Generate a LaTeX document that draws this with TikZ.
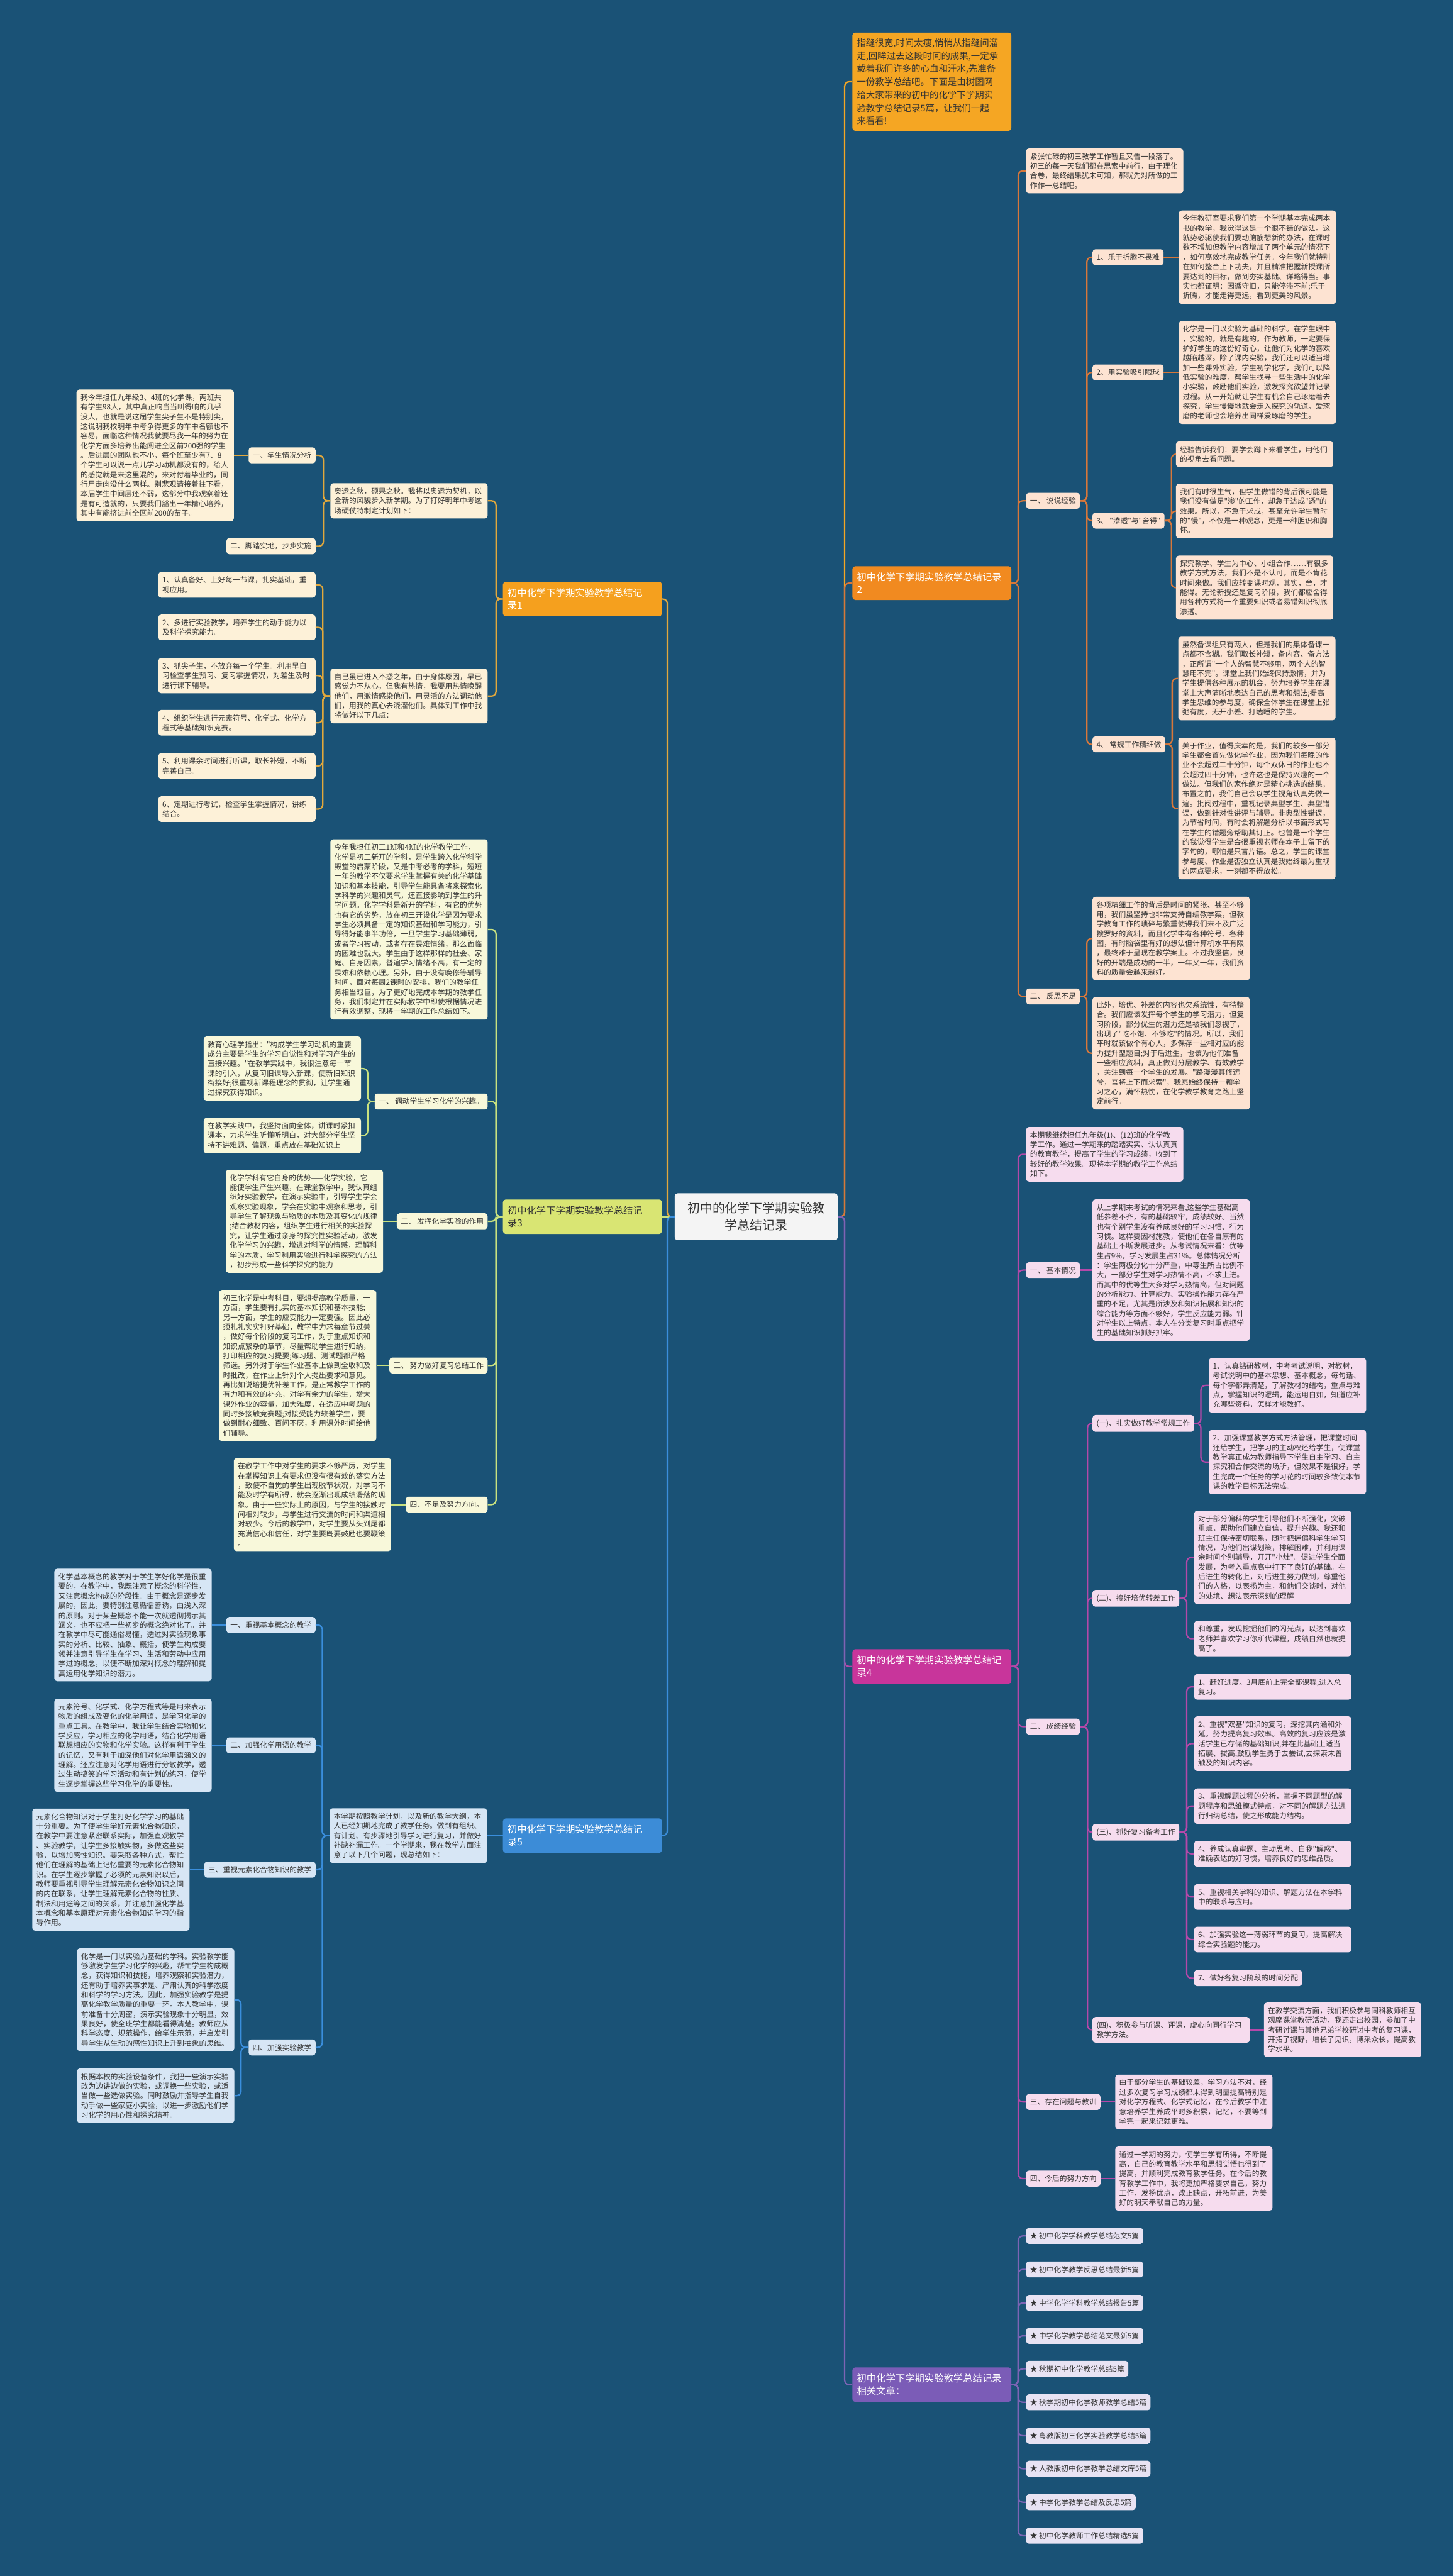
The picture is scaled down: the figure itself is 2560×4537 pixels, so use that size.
\documentclass[tikz,border=0pt]{standalone}
\usepackage{fontspec}
\newfontfamily\zh{Noto Sans CJK SC}[Ligatures=TeXOff]
\usetikzlibrary{positioning}
\definecolor{bgblue}{HTML}{1A5276}
\definecolor{ink}{HTML}{333333}
\definecolor{rootfill}{HTML}{F4F4F4}
\definecolor{introfill}{HTML}{F5A623}
\definecolor{oneMain}{HTML}{F5A01E}
\definecolor{oneLeaf}{HTML}{FDF1D8}
\definecolor{oneLine}{HTML}{E2A83C}
\definecolor{twoMain}{HTML}{F18A20}
\definecolor{twoLeaf}{HTML}{FDE3D2}
\definecolor{twoLine}{HTML}{D8773A}
\definecolor{threeMain}{HTML}{D9E573}
\definecolor{threeLeaf}{HTML}{F8F8DA}
\definecolor{threeLine}{HTML}{C9E27F}
\definecolor{fourMain}{HTML}{C8359B}
\definecolor{fourLeaf}{HTML}{F6DCEE}
\definecolor{fourLine}{HTML}{B548A9}
\definecolor{fiveMain}{HTML}{3C8CD7}
\definecolor{fiveLeaf}{HTML}{D7E6F5}
\definecolor{fiveLine}{HTML}{3A8EDC}
\definecolor{sixMain}{HTML}{7B5CB7}
\definecolor{sixLeaf}{HTML}{E8E3F3}
\definecolor{sixLine}{HTML}{7D64B5}

\begin{document}
\begin{tikzpicture}[x=1pt,y=-1pt,
  base/.style={rounded corners=5pt,inner xsep=7pt,inner ysep=8pt,align=left,text=ink,
    font=\zh\fontsize{13}{17}\selectfont},
  leaf/.style={base,text width=263pt},
  main/.style={rounded corners=5pt,inner xsep=8pt,inner ysep=11.5pt,text width=264pt,align=left,
    text=white,font=\zh\fontsize{17}{22}\selectfont},
  f1/.style={fill=oneLeaf},f2/.style={fill=twoLeaf},f3/.style={fill=threeLeaf},
  f4/.style={fill=fourLeaf},f5/.style={fill=fiveLeaf},f6/.style={fill=sixLeaf},
  wire/.style={line width=2.5pt,rounded corners=8pt},
  ln1/.style={wire,draw=oneLine},ln2/.style={wire,draw=twoLine},ln3/.style={wire,draw=threeLine},
  ln4/.style={wire,draw=fourLine},ln5/.style={wire,draw=fiveLine},ln6/.style={wire,draw=sixLine},
  lnI/.style={wire,draw=introfill}]
\fill[bgblue] (0,0) rectangle (2560,4537);
\useasboundingbox (0,0) rectangle (2560,4537);

% centre
\node[rounded corners=5pt,fill=rootfill,text=ink,text width=263pt,align=center,inner xsep=12pt,inner ysep=16pt,
  font=\zh\fontsize{22}{30}\selectfont] (root) at (1332,2143) {初中的化学下学期实验教\\学总结记录};

% ---------- left: 记录1 ----------
\node[main,fill=oneMain,anchor=east] (rec1) at (1166,1055) {初中化学下学期实验教学总结记\\录1};
\node[leaf,f1,anchor=east] (aoyun) at (859,882) {奥运之秋，硕果之秋。我将以奥运为契机，以\\全新的风貌步入新学期。为了打好明年中考这\\场硬仗特制定计划如下：};
\node[base,f1,anchor=east] (xsfx) at (556,802) {一、学生情况分析};
\node[base,f1,anchor=east] (jtsd) at (556,962) {二、脚踏实地，步步实施};
\node[leaf,f1,anchor=east] (xsqk) at (412,802) {我今年担任九年级3、4班的化学课，两班共\\有学生98人，其中真正响当当叫得响的几乎\\没人，也就是说这届学生尖子生不是特别尖，\\这说明我校明年中考争得更多的车中名额也不\\容易，面临这种情况我就要尽我一年的努力在\\化学方面多培养出能闯进全区前200强的学生\\。后进层的团队也不小，每个班至少有7、8\\个学生可以说一点儿学习动机都没有的，给人\\的感觉就是来这里混的，来对付着毕业的，同\\行尸走肉没什么两样。别悲观请接着往下看，\\本届学生中间层还不弱，这部分中我观察着还\\是有可造就的，只要我们豁出一年精心培养，\\其中有能挤进前全区前200的苗子。};
\node[leaf,f1,anchor=east] (buhuo) at (859,1226) {自己虽已进入不惑之年，由于身体原因，早已\\感觉力不从心，但我有热情，我要用热情唤醒\\他们，用激情感染他们，用灵活的方法调动他\\们，用我的真心去浇灌他们。具体到工作中我\\将做好以下几点：};
\node[leaf,f1,anchor=east] (p1) at (556,1030) {1、认真备好、上好每一节课，扎实基础，重\\视应用。};
\node[leaf,f1,anchor=east] (p2) at (556,1105) {2、多进行实验教学，培养学生的动手能力以\\及科学探究能力。};
\node[leaf,f1,anchor=east] (p3) at (556,1190) {3、抓尖子生，不放弃每一个学生。利用早自\\习检查学生预习、复习掌握情况，对差生及时\\进行课下辅导。};
\node[leaf,f1,anchor=east] (p4) at (556,1273) {4、组织学生进行元素符号、化学式、化学方\\程式等基础知识竞赛。};
\node[leaf,f1,anchor=east] (p5) at (556,1349) {5、利用课余时间进行听课，取长补短，不断\\完善自己。};
\node[leaf,f1,anchor=east] (p6) at (556,1425) {6、定期进行考试，检查学生掌握情况，讲练\\结合。};

% ---------- left: 记录3 ----------
\node[main,fill=threeMain,text=ink,anchor=east] (rec3) at (1166,2143) {初中化学下学期实验教学总结记\\录3};
\node[leaf,f3,anchor=east] (jinnian) at (859,1637) {今年我担任初三1班和4班的化学教学工作，\\化学是初三新开的学科，是学生跨入化学科学\\殿堂的启蒙阶段，又是中考必考的学科，短短\\一年的教学不仅要求学生掌握有关的化学基础\\知识和基本技能，引导学生能具备将来探索化\\学科学的兴趣和灵气，还直接影响到学生的升\\学问题。化学学科是新开的学科，有它的优势\\也有它的劣势，放在初三开设化学是因为要求\\学生必须具备一定的知识基础和学习能力，引\\导得好能事半功倍，一旦学生学习基础薄弱，\\或者学习被动，或者存在畏难情绪，那么面临\\的困难也就大。学生由于这样那样的社会、家\\庭、自身因素，普遍学习情绪不高，有一定的\\畏难和依赖心理。另外，由于没有晚修等辅导\\时间，面对每周2课时的安排，我们的教学任\\务相当艰巨，为了更好地完成本学期的教学任\\务，我们制定并在实际教学中即使根据情况进\\行有效调整，现将一学期的工作总结如下。};
\node[base,f3,anchor=east] (xingqu) at (859,1940) {一、 调动学生学习化学的兴趣。};
\node[leaf,f3,anchor=east] (xlx) at (636,1882) {教育心理学指出："构成学生学习动机的重要\\成分主要是学生的学习自觉性和对学习产生的\\直接兴趣。"在教学实践中，我很注意每一节\\课的引入，从复习旧课导入新课，使新旧知识\\衔接好;很重视新课程理念的贯彻，让学生通\\过探究获得知识。};
\node[leaf,f3,anchor=east] (quanti) at (636,2000) {在教学实践中，我坚持面向全体，讲课时紧扣\\课本，力求学生听懂听明白，对大部分学生坚\\持不讲难题、偏题，重点放在基础知识上};
\node[base,f3,anchor=east] (shiyan) at (859,2151) {二、 发挥化学实验的作用};
\node[leaf,f3,anchor=east] (youshi) at (675,2151) {化学学科有它自身的优势——化学实验，它\\能使学生产生兴趣，在课堂教学中，我认真组\\织好实验教学，在演示实验中，引导学生学会\\观察实验现象，学会在实验中观察和思考，引\\导学生了解现象与物质的本质及其变化的规律\\;结合教材内容，组织学生进行相关的实验探\\究，让学生通过亲身的探究性实验活动，激发\\化学学习的兴趣，增进对科学的情感，理解科\\学的本质，学习利用实验进行科学探究的方法\\，初步形成一些科学探究的能力};
\node[base,f3,anchor=east] (fuxi) at (859,2405) {三、 努力做好复习总结工作};
\node[leaf,f3,anchor=east] (zhongkao) at (663,2405) {初三化学是中考科目，要想提高教学质量，一\\方面，学生要有扎实的基本知识和基本技能;\\另一方面，学生的应变能力一定要强。因此必\\须扎扎实实打好基础，教学中力求每章节过关\\，做好每个阶段的复习工作，对于重点知识和\\知识点繁杂的章节，尽量帮助学生进行归纳，\\打印相应的复习提要;练习题、测试题都严格\\筛选。另外对于学生作业基本上做到全收和及\\时批改，在作业上针对个人提出要求和意见。\\再比如说培提优补差工作，是正常教学工作的\\有力和有效的补充，对学有余力的学生，增大\\课外作业的容量，加大难度，在适应中考题的\\同时多接触竞赛题;对接受能力较差学生，要\\做到耐心细致、百问不厌，利用课外时间给他\\们辅导。};
\node[base,f3,anchor=east] (buzu) at (859,2650) {四、不足及努力方向。};
\node[leaf,f3,anchor=east] (yanli) at (689,2650) {在教学工作中对学生的要求不够严厉，对学生\\在掌握知识上有要求但没有很有效的落实方法\\，致使不自觉的学生出现脱节状况，对学习不\\能及时学有所得，就会逐渐出现成绩滑落的现\\象。由于一些实际上的原因，与学生的接触时\\间相对较少，与学生进行交流的时间和渠道相\\对较少。今后的教学中，对学生要从头到尾都\\充满信心和信任，对学生要既要鼓励也要鞭策\\。};

% ---------- left: 记录5 ----------
\node[main,fill=fiveMain,anchor=east] (rec5) at (1166,3233) {初中化学下学期实验教学总结记\\录5};
\node[leaf,f5,anchor=east] (jihua) at (858,3233) {本学期按照教学计划，以及新的教学大纲，本\\人已经如期地完成了教学任务。做到有组织、\\有计划、有步骤地引导学习进行复习，并做好\\补缺补漏工作。一个学期来，我在教学方面注\\意了以下几个问题，现总结如下：};
\node[base,f5,anchor=east] (gainian) at (556,2862) {一、重视基本概念的教学};
\node[leaf,f5,anchor=east] (gnt) at (373,2862) {化学基本概念的教学对于学生学好化学是很重\\要的，在教学中，我既注意了概念的科学性，\\又注意概念构成的阶段性。由于概念是逐步发\\展的，因此，要特别注意循循善诱，由浅入深\\的原则。对于某些概念不能一次就透彻揭示其\\涵义，也不应把一些初步的概念绝对化了。并\\在教学中尽可能通俗易懂，透过对实验现象事\\实的分析、比较、抽象、概括，使学生构成要\\领并注意引导学生在学习、生活和劳动中应用\\学过的概念，以便不断加深对概念的理解和提\\高运用化学知识的潜力。};
\node[base,f5,anchor=east] (yongyu) at (556,3074) {二、加强化学用语的教学};
\node[leaf,f5,anchor=east] (yyt) at (373,3074) {元素符号、化学式、化学方程式等是用来表示\\物质的组成及变化的化学用语，是学习化学的\\重点工具。在教学中，我让学生结合实物和化\\学反应，学习相应的化学用语，结合化学用语\\联想相应的实物和化学实验。这样有利于学生\\的记忆，又有利于加深他们对化学用语涵义的\\理解。还应注意对化学用语进行分散教学，透\\过生动搞笑的学习活动和有计划的练习，使学\\生逐步掌握这些学习化学的重要性。};
\node[base,f5,anchor=east] (yuansu) at (556,3293) {三、重视元素化合物知识的教学};
\node[leaf,f5,anchor=east] (yst) at (334,3293) {元素化合物知识对于学生打好化学学习的基础\\十分重要。为了使学生学好元素化合物知识，\\在教学中要注意紧密联系实际，加强直观教学\\、实验教学，让学生多接触实物，多做这些实\\验，以增加感性知识。要采取各种方式，帮忙\\他们在理解的基础上记忆重要的元素化合物知\\识。在学生逐步掌握了必须的元素知识以后，\\教师要重视引导学生理解元素化合物知识之间\\的内在联系，让学生理解元素化合物的性质、\\制法和用途等之间的关系，并注意加强化学基\\本概念和基本原理对元素化合物知识学习的指\\导作用。};
\node[base,f5,anchor=east] (syjx) at (556,3606) {四、加强实验教学};
\node[leaf,f5,anchor=east] (syt1) at (413,3522) {化学是一门以实验为基础的学科。实验教学能\\够激发学生学习化学的兴趣，帮忙学生构成概\\念，获得知识和技能，培养观察和实验潜力，\\还有助于培养实事求是、严肃认真的科学态度\\和科学的学习方法。因此，加强实验教学是提\\高化学教学质量的重要一环。本人教学中，课\\前准备十分周密，演示实验现象十分明显，效\\果良好，使全班学生都能看得清楚。教师应从\\科学态度、规范操作，给学生示范，并启发引\\导学生从生动的感性知识上升到抽象的思维。};
\node[leaf,f5,anchor=east] (syt2) at (413,3691) {根据本校的实验设备条件，我把一些演示实验\\改为边讲边做的实验，或调换一些实验，或适\\当做一些选做实验。同时鼓励并指导学生自我\\动手做一些家庭小实验，以进一步激励他们学\\习化学的用心性和探究精神。};

% ---------- right: intro ----------
\node[rounded corners=5pt,fill=introfill,text=ink,text width=264pt,align=left,inner xsep=8pt,inner ysep=10pt,
  font=\zh\fontsize{16}{23}\selectfont,anchor=west] (intro) at (1501,144) {指缝很宽,时间太瘦,悄悄从指缝间溜\\走,回眸过去这段时间的成果,一定承\\载着我们许多的心血和汗水,先准备\\一份教学总结吧。下面是由树图网\\给大家带来的初中的化学下学期实\\验教学总结记录5篇，让我们一起\\来看看!};

% ---------- right: 记录2 ----------
\node[main,fill=twoMain,anchor=west] (rec2) at (1501,1027) {初中化学下学期实验教学总结记录\\2};
\node[leaf,f2,anchor=west] (jinzhang) at (1807,301) {紧张忙碌的初三教学工作暂且又告一段落了。\\初三的每一天我们都在思索中前行，由于理化\\合卷，最终结果犹未可知，那就先对所做的工\\作作一总结吧。};
\node[base,f2,anchor=west] (jingyan) at (1807,882) {一、 说说经验};
\node[base,f2,anchor=west] (zheteng) at (1924,453) {1、乐于折腾不畏难};
\node[leaf,f2,anchor=west] (ztt) at (2076,453) {今年教研室要求我们第一个学期基本完成两本\\书的教学，我觉得这是一个很不错的做法。这\\就势必驱使我们要动脑筋想新的办法，在课时\\数不增加但教学内容增加了两个单元的情况下\\，如何高效地完成教学任务。今年我们就特别\\在如何整合上下功夫，并且精准把握新授课所\\要达到的目标，做到夯实基础、详略得当。事\\实也都证明：因循守旧，只能停滞不前;乐于\\折腾，才能走得更远，看到更美的风景。};
\node[base,f2,anchor=west] (yanqiu) at (1924,656) {2、用实验吸引眼球};
\node[leaf,f2,anchor=west] (yqt) at (2076,656) {化学是一门以实验为基础的科学。在学生眼中\\，实验的，就是有趣的。作为教师，一定要保\\护好学生的这份好奇心，让他们对化学的喜欢\\越陷越深。除了课内实验，我们还可以适当增\\加一些课外实验，学生初学化学，我们可以降\\低实验的难度，帮学生找寻一些生活中的化学\\小实验，鼓励他们实验，激发探究欲望并记录\\过程。从一开始就让学生有机会自己琢磨着去\\探究，学生慢慢地就会走入探究的轨道。爱琢\\磨的老师也会培养出同样爱琢磨的学生。};
\node[base,f2,anchor=west] (shentou) at (1924,917) {3、 "渗透"与"舍得"};
\node[leaf,f2,anchor=west] (st1) at (2071,800) {经验告诉我们：要学会蹲下来看学生，用他们\\的视角去看问题。};
\node[leaf,f2,anchor=west] (st2) at (2071,900) {我们有时很生气，但学生做错的背后很可能是\\我们没有做足"渗"的工作，却急于达成"透"的\\效果。所以，不急于求成，甚至允许学生暂时\\的"慢"，不仅是一种观念，更是一种胆识和胸\\怀。};
\node[leaf,f2,anchor=west] (st3) at (2071,1035) {探究教学、学生为中心、小组合作……有很多\\教学方式方法，我们不是不认可，而是不肯花\\时间来做。我们应转变课时观，其实，舍，才\\能得。无论新授还是复习阶段，我们都应舍得\\用各种方式将一个重要知识或者易错知识彻底\\渗透。};
\node[base,f2,anchor=west] (changgui) at (1924,1311) {4、 常规工作精细做};
\node[leaf,f2,anchor=west] (cg1) at (2075,1195) {虽然备课组只有两人，但是我们的集体备课一\\点都不含糊。我们取长补短，备内容、备方法\\，正所谓"一个人的智慧不够用，两个人的智\\慧用不完"。课堂上我们始终保持激情，并为\\学生提供各种展示的机会，努力培养学生在课\\堂上大声清晰地表达自己的思考和想法;提高\\学生思维的参与度，确保全体学生在课堂上张\\弛有度，无开小差、打瞌睡的学生。};
\node[leaf,f2,anchor=west] (cg2) at (2075,1424) {关于作业，值得庆幸的是，我们的较多一部分\\学生都会首先做化学作业，因为我们每晚的作\\业不会超过二十分钟，每个双休日的作业也不\\会超过四十分钟，也许这也是保持兴趣的一个\\做法。但我们的家作绝对是精心挑选的结果，\\布置之前，我们自己会以学生视角认真先做一\\遍。批阅过程中，重视记录典型学生、典型错\\误，做到针对性讲评与辅导。非典型性错误，\\为节省时间，有时会将解题分析以书面形式写\\在学生的错题旁帮助其订正。也曾是一个学生\\的我觉得学生是会很重视老师在本子上留下的\\字句的，哪怕是只言片语。总之，学生的课堂\\参与度、作业是否独立认真是我始终最为重视\\的两点要求，一刻都不得放松。};
\node[base,f2,anchor=west] (fansi) at (1807,1755) {二、 反思不足};
\node[leaf,f2,anchor=west] (fs1) at (1924,1653) {各项精细工作的背后是时间的紧张、甚至不够\\用，我们虽坚持也非常支持自编教学案，但教\\学教育工作的琐碎与繁重使得我们来不及广泛\\搜罗好的资料，而且化学中有各种符号、各种\\图，有时脑袋里有好的想法但计算机水平有限\\，最终难于呈现在教学案上。不过我坚信，良\\好的开端是成功的一半，一年又一年，我们资\\料的质量会越来越好。};
\node[leaf,f2,anchor=west] (fs2) at (1924,1855) {此外，培优、补差的内容也欠系统性，有待整\\合。我们应该发挥每个学生的学习潜力，但复\\习阶段，部分优生的潜力还是被我们忽视了，\\出现了"吃不饱、不够吃"的情况。所以，我们\\平时就该做个有心人，多保存一些相对应的能\\力提升型题目;对于后进生，也该为他们准备\\一些相应资料，真正做到分层教学、有效教学\\，关注到每一个学生的发展。"路漫漫其修远\\兮，吾将上下而求索"，我愿始终保持一颗学\\习之心，满怀热忱，在化学教学教育之路上坚\\定前行。};

% ---------- right: 记录4 ----------
\node[main,fill=fourMain,anchor=west] (rec4) at (1501,2935) {初中的化学下学期实验教学总结记\\录4};
\node[leaf,f4,anchor=west] (benqi) at (1807,2033) {本期我继续担任九年级(1)、(12)班的化学教\\学工作。通过一学期来的踏踏实实、认认真真\\的教育教学，提高了学生的学习成绩，收到了\\较好的教学效果。现将本学期的教学工作总结\\如下。};
\node[base,f4,anchor=west] (jiben) at (1807,2237) {一、 基本情况};
\node[leaf,f4,anchor=west] (jbt) at (1924,2237) {从上学期末考试的情况来看,这些学生基础高\\低参差不齐，有的基础较牢，成绩较好。当然\\也有个别学生没有养成良好的学习习惯、行为\\习惯。这样要因材施教，使他们在各自原有的\\基础上不断发展进步。从考试情况来看：优等\\生占9\%，学习发展生占31\%。总体情况分析\\：学生两极分化十分严重，中等生所占比例不\\大，一部分学生对学习热情不高，不求上进。\\而其中的优等生大多对学习热情高，但对问题\\的分析能力、计算能力、实验操作能力存在严\\重的不足，尤其是所涉及和知识拓展和知识的\\综合能力等方面不够好，学生反应能力弱。针\\对学生以上特点，本人在分类复习时重点把学\\生的基础知识抓好抓牢。};
\node[base,f4,anchor=west] (chengji) at (1807,3041) {二、 成绩经验};
\node[base,f4,anchor=west] (changgui4) at (1924,2507) {(一)、扎实做好教学常规工作};
\node[leaf,f4,anchor=west] (zs1) at (2129,2440) {1、认真钻研教材，中考考试说明，对教材，\\考试说明中的基本思想、基本概念，每句话、\\每个字都弄清楚，了解教材的结构，重点与难\\点，掌握知识的逻辑，能运用自如，知道应补\\充哪些资料，怎样才能教好。};
\node[leaf,f4,anchor=west] (zs2) at (2129,2575) {2、加强课堂教学方式方法管理，把课堂时间\\还给学生，把学习的主动权还给学生，使课堂\\教学真正成为教师指导下学生自主学习、自主\\探究和合作交流的场所，但效果不是很好，学\\生完成一个任务的学习花的时间较多致使本节\\课的教学目标无法完成。};
\node[base,f4,anchor=west] (peiyou) at (1924,2815) {(二)、搞好培优转差工作};
\node[leaf,f4,anchor=west] (py1) at (2103,2743) {对于部分偏科的学生引导他们不断强化，突破\\重点，帮助他们建立自信，提升兴趣。我还和\\班主任保持密切联系，随时把握偏科学生学习\\情况，为他们出谋划策，排解困难，并利用课\\余时间个别辅导，开开"小灶"。促进学生全面\\发展，为考入重点高中打下了良好的基础。在\\后进生的转化上，对后进生努力做到，尊重他\\们的人格，以表扬为主，和他们交谈时，对他\\的处境、想法表示深刻的理解};
\node[leaf,f4,anchor=west] (py2) at (2103,2886) {和尊重，发现挖掘他们的闪光点，以达到喜欢\\老师并喜欢学习你所代课程，成绩自然也就提\\高了。};
\node[base,f4,anchor=west] (beikao) at (1924,3227) {(三)、抓好复习备考工作};
\node[leaf,f4,anchor=west] (bk1) at (2103,2971) {1、赶好进度。3月底前上完全部课程,进入总\\复习。};
\node[leaf,f4,anchor=west] (bk2) at (2103,3071) {2、重视"双基"知识的复习，深挖其内涵和外\\延。努力提高复习效率。高效的复习应该是激\\活学生已存储的基础知识,并在此基础上适当\\拓展、拔高,鼓励学生勇于去尝试,去探索未曾\\触及的知识内容。};
\node[leaf,f4,anchor=west] (bk3) at (2103,3181) {3、重视解题过程的分析，掌握不同题型的解\\题程序和思维模式特点，对不同的解题方法进\\行归纳总结，使之形成能力结构。};
\node[leaf,f4,anchor=west] (bk4) at (2103,3265) {4、养成认真审题、主动思考、自我"解惑"、\\准确表达的好习惯，培养良好的思维品质。};
\node[leaf,f4,anchor=west] (bk5) at (2103,3341) {5、重视相关学科的知识、解题方法在本学科\\中的联系与应用。};
\node[leaf,f4,anchor=west] (bk6) at (2103,3416) {6、加强实验这一薄弱环节的复习，提高解决\\综合实验题的能力。};
\node[base,f4,anchor=west] (bk7) at (2103,3484) {7、做好各复习阶段的时间分配};
\node[leaf,f4,anchor=west] (tingke) at (1924,3575) {(四)、积极参与听课、评课，虚心向同行学习\\教学方法。};
\node[leaf,f4,anchor=west] (jiaoliu) at (2226,3575) {在教学交流方面，我们积极参与同科教师相互\\观摩课堂教研活动，我还走出校园，参加了中\\考研讨课与其他兄弟学校研讨中考的复习课，\\开拓了视野，增长了见识，博采众长，提高教\\学水平。};
\node[base,f4,anchor=west] (wenti) at (1807,3702) {三、存在问题与教训};
\node[leaf,f4,anchor=west] (wtt) at (1964,3702) {由于部分学生的基础较差，学习方法不对，经\\过多次复习学习成绩都未得到明显提高特别是\\对化学方程式、化学式记忆，在今后教学中注\\意培养学生养成平时多积累，记忆，不要等到\\学完一起来记就更难。};
\node[base,f4,anchor=west] (fangxiang) at (1807,3837) {四、今后的努力方向};
\node[leaf,f4,anchor=west] (fxt) at (1964,3837) {通过一学期的努力，使学生学有所得，不断提\\高，自己的教育教学水平和思想觉悟也得到了\\提高，并顺利完成教育教学任务。在今后的教\\育教学工作中，我将更加严格要求自己，努力\\工作，发扬优点，改正缺点，开拓前进，为美\\好的明天奉献自己的力量。};

% ---------- right: related ----------
\node[main,fill=sixMain,anchor=west] (rel) at (1501,4200) {初中化学下学期实验教学总结记录\\相关文章：};
\node[base,f6,anchor=west] (w1) at (1807,3938) {★ 初中化学学科教学总结范文5篇};
\node[base,f6,anchor=west] (w2) at (1807,3997) {★ 初中化学教学反思总结最新5篇};
\node[base,f6,anchor=west] (w3) at (1807,4056) {★ 中学化学学科教学总结报告5篇};
\node[base,f6,anchor=west] (w4) at (1807,4114) {★ 中学化学教学总结范文最新5篇};
\node[base,f6,anchor=west] (w5) at (1807,4172) {★ 秋期初中化学教学总结5篇};
\node[base,f6,anchor=west] (w6) at (1807,4231) {★ 秋学期初中化学教师教学总结5篇};
\node[base,f6,anchor=west] (w7) at (1807,4290) {★ 粤教版初三化学实验教学总结5篇};
\node[base,f6,anchor=west] (w8) at (1807,4348) {★ 人教版初中化学教学总结文库5篇};
\node[base,f6,anchor=west] (w9) at (1807,4407) {★ 中学化学教学总结及反思5篇};
\node[base,f6,anchor=west] (w10) at (1807,4466) {★ 初中化学教师工作总结精选5篇};

% connectors, centre
\draw[ln1] (root.west) -- ++(-13,0) |- (rec1.east);
\draw[ln3] (root.west) -- (rec3.east);
\draw[ln5] (root.west) -- ++(-13,0) |- (rec5.east);
\draw[lnI] (root.east) -- ++(12,0) |- (intro.west);
\draw[ln2] (root.east) -- ++(12,0) |- (rec2.west);
\draw[ln4] (root.east) -- ++(12,0) |- (rec4.west);
\draw[ln6] (root.east) -- ++(12,0) |- (rel.west);
% 记录1
\draw[ln1] (rec1.west) -- ++(-12,0) |- (aoyun.east);
\draw[ln1] (rec1.west) -- ++(-12,0) |- (buhuo.east);
\draw[ln1] (aoyun.west) -- ++(-12,0) |- (xsfx.east);
\draw[ln1] (aoyun.west) -- ++(-12,0) |- (jtsd.east);
\draw[ln1] (xsfx.west) -- (xsqk.east);
\draw[ln1] (buhuo.west) -- ++(-13,0) |- (p1.east);
\draw[ln1] (buhuo.west) -- ++(-13,0) |- (p2.east);
\draw[ln1] (buhuo.west) -- ++(-13,0) |- (p3.east);
\draw[ln1] (buhuo.west) -- ++(-13,0) |- (p4.east);
\draw[ln1] (buhuo.west) -- ++(-13,0) |- (p5.east);
\draw[ln1] (buhuo.west) -- ++(-13,0) |- (p6.east);
% 记录3
\draw[ln3] (rec3.west) -- ++(-12,0) |- (jinnian.east);
\draw[ln3] (rec3.west) -- ++(-12,0) |- (xingqu.east);
\draw[ln3] (rec3.west) -- ++(-12,0) |- (shiyan.east);
\draw[ln3] (rec3.west) -- ++(-12,0) |- (fuxi.east);
\draw[ln3] (rec3.west) -- ++(-12,0) |- (buzu.east);
\draw[ln3] (xingqu.west) -- ++(-12,0) |- (xlx.east);
\draw[ln3] (xingqu.west) -- ++(-12,0) |- (quanti.east);
\draw[ln3] (shiyan.west) -- (youshi.east);
\draw[ln3] (fuxi.west) -- (zhongkao.east);
\draw[ln3] (buzu.west) -- (yanli.east);
% 记录5
\draw[ln5] (rec5.west) -- (jihua.east);
\draw[ln5] (jihua.west) -- ++(-13,0) |- (gainian.east);
\draw[ln5] (jihua.west) -- ++(-13,0) |- (yongyu.east);
\draw[ln5] (jihua.west) -- ++(-13,0) |- (yuansu.east);
\draw[ln5] (jihua.west) -- ++(-13,0) |- (syjx.east);
\draw[ln5] (gainian.west) -- (gnt.east);
\draw[ln5] (yongyu.west) -- (yyt.east);
\draw[ln5] (yuansu.west) -- (yst.east);
\draw[ln5] (syjx.west) -- ++(-13,0) |- (syt1.east);
\draw[ln5] (syjx.west) -- ++(-13,0) |- (syt2.east);
% 记录2
\draw[ln2] (rec2.east) -- ++(12,0) |- (jinzhang.west);
\draw[ln2] (rec2.east) -- ++(12,0) |- (jingyan.west);
\draw[ln2] (rec2.east) -- ++(12,0) |- (fansi.west);
\draw[ln2] (jingyan.east) -- ++(12,0) |- (zheteng.west);
\draw[ln2] (jingyan.east) -- ++(12,0) |- (yanqiu.west);
\draw[ln2] (jingyan.east) -- ++(12,0) |- (shentou.west);
\draw[ln2] (jingyan.east) -- ++(12,0) |- (changgui.west);
\draw[ln2] (zheteng.east) -- (ztt.west);
\draw[ln2] (yanqiu.east) -- (yqt.west);
\draw[ln2] (shentou.east) -- ++(12,0) |- (st1.west);
\draw[ln2] (shentou.east) -- ++(12,0) |- (st2.west);
\draw[ln2] (shentou.east) -- ++(12,0) |- (st3.west);
\draw[ln2] (changgui.east) -- ++(12,0) |- (cg1.west);
\draw[ln2] (changgui.east) -- ++(12,0) |- (cg2.west);
\draw[ln2] (fansi.east) -- ++(12,0) |- (fs1.west);
\draw[ln2] (fansi.east) -- ++(12,0) |- (fs2.west);
% 记录4
\draw[ln4] (rec4.east) -- ++(12,0) |- (benqi.west);
\draw[ln4] (rec4.east) -- ++(12,0) |- (jiben.west);
\draw[ln4] (rec4.east) -- ++(12,0) |- (chengji.west);
\draw[ln4] (rec4.east) -- ++(12,0) |- (wenti.west);
\draw[ln4] (rec4.east) -- ++(12,0) |- (fangxiang.west);
\draw[ln4] (jiben.east) -- (jbt.west);
\draw[ln4] (chengji.east) -- ++(13,0) |- (changgui4.west);
\draw[ln4] (chengji.east) -- ++(13,0) |- (peiyou.west);
\draw[ln4] (chengji.east) -- ++(13,0) |- (beikao.west);
\draw[ln4] (chengji.east) -- ++(13,0) |- (tingke.west);
\draw[ln4] (changgui4.east) -- ++(12,0) |- (zs1.west);
\draw[ln4] (changgui4.east) -- ++(12,0) |- (zs2.west);
\draw[ln4] (peiyou.east) -- ++(13,0) |- (py1.west);
\draw[ln4] (peiyou.east) -- ++(13,0) |- (py2.west);
\draw[ln4] (beikao.east) -- ++(13,0) |- (bk1.west);
\draw[ln4] (beikao.east) -- ++(13,0) |- (bk2.west);
\draw[ln4] (beikao.east) -- ++(13,0) |- (bk3.west);
\draw[ln4] (beikao.east) -- ++(13,0) |- (bk4.west);
\draw[ln4] (beikao.east) -- ++(13,0) |- (bk5.west);
\draw[ln4] (beikao.east) -- ++(13,0) |- (bk6.west);
\draw[ln4] (beikao.east) -- ++(13,0) |- (bk7.west);
\draw[ln4] (tingke.east) -- (jiaoliu.west);
\draw[ln4] (wenti.east) -- (wtt.west);
\draw[ln4] (fangxiang.east) -- (fxt.west);
% related
\draw[ln6] (rel.east) -- ++(12,0) |- (w1.west);
\draw[ln6] (rel.east) -- ++(12,0) |- (w2.west);
\draw[ln6] (rel.east) -- ++(12,0) |- (w3.west);
\draw[ln6] (rel.east) -- ++(12,0) |- (w4.west);
\draw[ln6] (rel.east) -- ++(12,0) |- (w5.west);
\draw[ln6] (rel.east) -- ++(12,0) |- (w6.west);
\draw[ln6] (rel.east) -- ++(12,0) |- (w7.west);
\draw[ln6] (rel.east) -- ++(12,0) |- (w8.west);
\draw[ln6] (rel.east) -- ++(12,0) |- (w9.west);
\draw[ln6] (rel.east) -- ++(12,0) |- (w10.west);
\end{tikzpicture}
\end{document}
